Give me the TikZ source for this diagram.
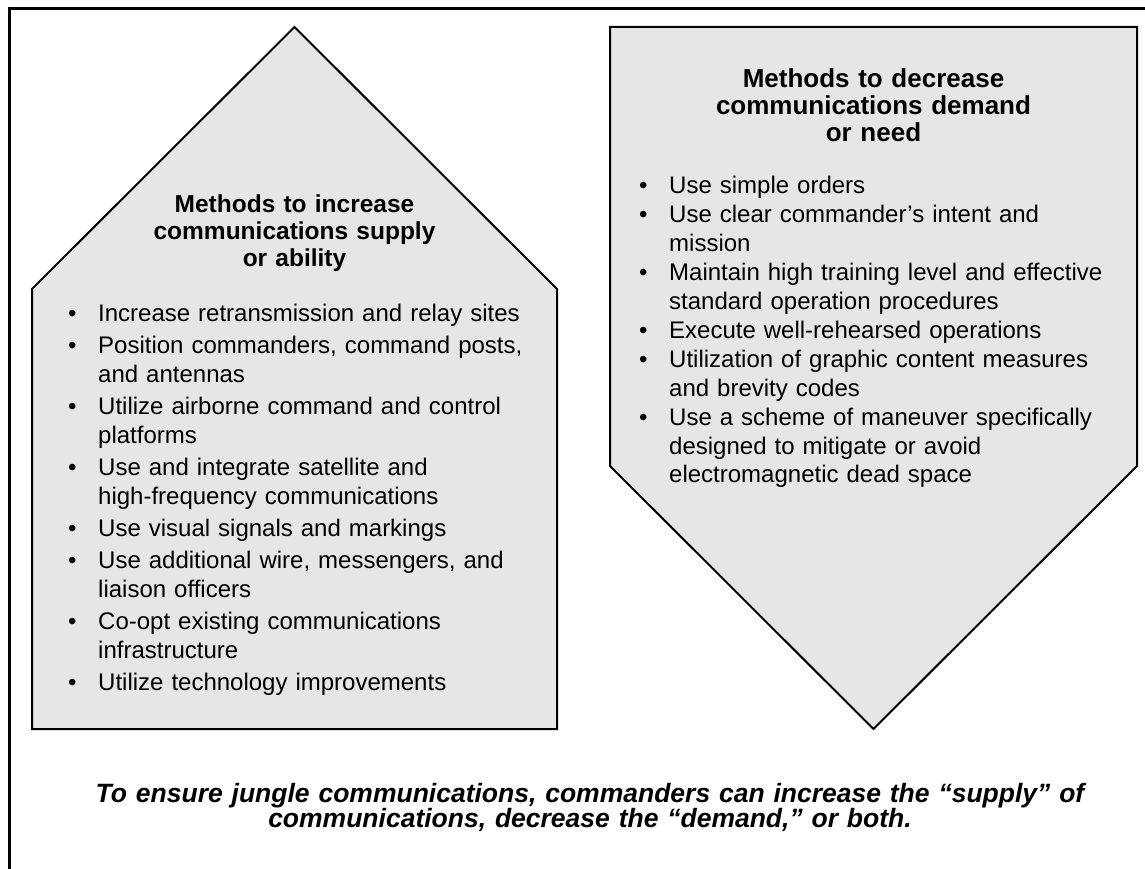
\documentclass[tikz,border=0pt]{standalone}
\usepackage{fontspec}
\setmainfont{Liberation Sans}
\definecolor{boxgray}{HTML}{E6E6E6}
% one bullet point with a hanging indent
\newcommand\bitem{\par\noindent\hangindent=26pt\hangafter=1%
  \makebox[26pt][l]{\hspace*{-4.2pt}\textbullet}}
\newcommand\bgap{\par\vspace{3.7pt}}
\begin{document}
\begin{tikzpicture}[x=1pt,y=-1pt,
    shape box/.style={fill=boxgray,draw=black,line width=2pt,line join=miter},
    title text/.style={anchor=base,align=center,text width=500pt,inner sep=0pt,
      font=\bfseries\fontsize{26}{27}\selectfont},
    list text/.style={anchor=base west,align=left,text width=500pt,inner sep=0pt},
    note text/.style={anchor=base,align=center,text width=1100pt,inner sep=0pt,
      font=\bfseries\itshape\fontsize{26.5}{25}\selectfont}]
  \clip (0,0) rectangle (1145,869);
  \useasboundingbox (0,0) rectangle (1145,869);
  % outer frame
  \draw[line width=3pt] (9,9) rectangle (1180,890);
  % supply: house shape
  \draw[shape box] (294.5,27) -- (557,289) -- (557,729) -- (32,729) -- (32,289) -- cycle;
  % demand: arrow pointing down
  \draw[shape box] (610,27) -- (1137,27) -- (1137,466) -- (873.5,729) -- (610,466) -- cycle;
  \node[title text,font=\bfseries\fontsize{24.5}{27}\selectfont] (inctitle) at (294.5,212)
    {Methods to increase\\communications supply\\or ability};
  \node[title text] (dectitle) at (873.5,88)
    {Methods to decrease\\communications demand\\or need};
  \node[list text,font=\fontsize{24}{28.6}\selectfont] (inclist) at (72,293) {%
    \bitem Increase retransmission and relay sites\bgap
    \bitem Position commanders, command posts,\newline and antennas\bgap
    \bitem Utilize airborne command and control\newline platforms\bgap
    \bitem Use and integrate satellite and\newline high-frequency communications\bgap
    \bitem Use visual signals and markings\bgap
    \bitem Use additional wire, messengers, and\newline liaison officers\bgap
    \bitem Co-opt existing communications\newline infrastructure\bgap
    \bitem Utilize technology improvements\par};
  \node[list text,font=\fontsize{24}{28.9}\selectfont] (declist) at (643,165) {%
    \bitem Use simple orders
    \bitem Use clear commander’s intent and\newline mission
    \bitem Maintain high training level and effective\newline standard operation procedures
    \bitem Execute well-rehearsed operations
    \bitem Utilization of graphic content measures\newline and brevity codes
    \bitem Use a scheme of maneuver specifically\newline designed to mitigate or avoid\newline electromagnetic dead space\par};
  \node[note text] (note) at (590,802)
    {To ensure jungle communications, commanders can increase the “supply” of\\
     communications, decrease the “demand,” or both.};
\end{tikzpicture}
\end{document}
